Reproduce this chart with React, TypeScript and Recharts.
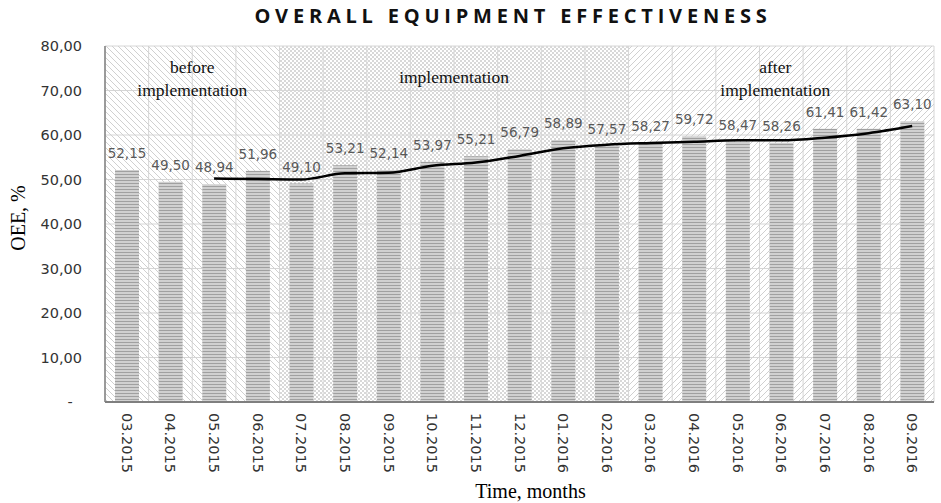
import {
  ComposedChart,
  Bar,
  Line,
  XAxis,
  YAxis,
  CartesianGrid,
  ReferenceArea,
  LabelList,
  Label,
} from "recharts"

const months = [
  "03.2015", "04.2015", "05.2015", "06.2015", "07.2015", "08.2015", "09.2015",
  "10.2015", "11.2015", "12.2015", "01.2016", "02.2016", "03.2016", "04.2016",
  "05.2016", "06.2016", "07.2016", "08.2016", "09.2016",
]
const oee = [
  52.15, 49.5, 48.94, 51.96, 49.1, 53.21, 52.14, 53.97, 55.21, 56.79,
  58.89, 57.57, 58.27, 59.72, 58.47, 58.26, 61.41, 61.42, 63.1,
]
// moving average line
const trend = [
  null, null, 50.2, 50.1, 50.0, 51.4, 51.5, 53.1, 53.8, 55.3,
  57.0, 57.8, 58.2, 58.5, 58.8, 58.8, 59.4, 60.4, 62.0,
]
const yTicks = [0, 10, 20, 30, 40, 50, 60, 70, 80]

const phaseFrom = ["03.2015", "07.2015", "03.2016"]
const phaseTo = ["06.2015", "02.2016", "09.2016"]
const phaseNotes = [["before", "implementation"], ["implementation"], ["after", "implementation"]]
const phaseFills = ["url(#hatchBack)", "url(#dots)", "url(#hatchFwd)"]

const data = months.map((month, i) => ({ month, oee: oee[i], trend: trend[i] }))

const fmt = (v: number) => (v === 0 ? "-\u00a0\u00a0" : v.toFixed(2).replace(".", ","))

const SANS = "DejaVu Sans"
const SERIF = "Liberation Serif"

function MonthTick({ x, y, payload }: any) {
  return (
    <text
      x={x}
      y={y}
      transform={`rotate(90, ${x}, ${y})`}
      textAnchor="start"
      dominantBaseline="central"
      fontFamily={SANS}
      fontSize={14.5}
      fill="#333"
    >
      {payload.value}
    </text>
  )
}

function noteRenderer(lines: string[]) {
  return ({ viewBox }: any) => {
    const cx = viewBox.x + viewBox.width / 2 - (lines[0] === "after" ? 6 : 0)
    const top = lines.length > 1 ? viewBox.y + 21 : viewBox.y + 31
    return (
      <text textAnchor="middle" fontFamily={SERIF} fontSize={17.5} fill="#111">
        {lines.map((l, i) => (
          <tspan key={i} x={cx} y={top + i * 23} dominantBaseline="central">
            {l}
          </tspan>
        ))}
      </text>
    )
  }
}

function YTitle({ viewBox }: any) {
  const x = viewBox.x + 18
  const y = viewBox.y + viewBox.height / 2 - 6
  return (
    <text
      x={x}
      y={y}
      transform={`rotate(-90, ${x}, ${y})`}
      textAnchor="middle"
      dominantBaseline="central"
      fontFamily={SERIF}
      fontSize={20}
      fill="#000"
    >
      OEE, %
    </text>
  )
}

export default function App() {
  return (
    <div style={{ position: "absolute", left: 0, top: 0, width: 941, height: 503, background: "#fff" }}>
      <div
        style={{
          position: "absolute",
          left: 0,
          top: 2,
          width: 1026,
          textAlign: "center",
          fontFamily: "Open Sans",
          fontWeight: "bold",
          fontSize: 20,
          letterSpacing: 4.8,
          color: "#111",
        }}
      >
        OVERALL EQUIPMENT EFFECTIVENESS
      </div>
      <ComposedChart
        width={941}
        height={503}
        data={data}
        margin={{ top: 46, right: 7, bottom: 21, left: 0 }}
        barSize={24}
      >
        <defs>
          <pattern id="hatchBack" width="6" height="6" patternUnits="userSpaceOnUse">
            <path d="M-1,5 l2,2 M0,0 l6,6 M5,-1 l2,2" stroke="#d0d0d0" strokeWidth="1" />
          </pattern>
          <pattern id="hatchFwd" width="6" height="6" patternUnits="userSpaceOnUse">
            <path d="M0,6 l6,-6 M-1,1 l2,-2 M5,7 l2,-2" stroke="#d0d0d0" strokeWidth="1" />
          </pattern>
          <pattern id="dots" width="4" height="4" patternUnits="userSpaceOnUse">
            <rect x="0" y="0" width="2" height="2" fill="#d8d8d8" />
            <rect x="2" y="2" width="2" height="2" fill="#d8d8d8" />
          </pattern>
          <pattern id="stripes" width="4" height="3" patternUnits="userSpaceOnUse">
            <rect x="0" y="0" width="4" height="3" fill="#d0d0d0" />
            <rect x="0" y="0" width="4" height="1" fill="#a0a0a0" />
          </pattern>
        </defs>
        {phaseFrom.map((from, i) => (
          <ReferenceArea
            key={from}
            x1={from}
            x2={phaseTo[i]}
            y1={0}
            y2={80}
            ifOverflow="visible"
            fill={phaseFills[i]}
            fillOpacity={1}
            stroke="none"
            label={noteRenderer(phaseNotes[i])}
          />
        ))}
        <CartesianGrid
          stroke="#d6d6d6"
          verticalCoordinatesGenerator={({ offset }: any) =>
            months.map((_, i) => offset.left + (i * offset.width) / months.length).concat(offset.left + offset.width)
          }
        />
        <XAxis
          dataKey="month"
          interval={0}
          height={80}
          tickLine={false}
          tickMargin={5}
          tick={<MonthTick />}
          axisLine={{ stroke: "#7f7f7f", strokeWidth: 2 }}
        >
          <Label
            value="Time, months"
            position="bottom"
            offset={0}
            dx={11}
            dy={2}
            fontFamily={SERIF}
            fontSize={20}
            fill="#000"
          />
        </XAxis>
        <YAxis
          domain={[0, 80]}
          ticks={yTicks}
          width={105}
          tickLine={false}
          tickMargin={17}
          tickFormatter={fmt}
          tick={{ fontFamily: SANS, fontSize: 14.5, fill: "#333" }}
          axisLine={{ stroke: "#808080", strokeWidth: 1.5 }}
        >
          <Label content={<YTitle />} />
        </YAxis>
        <Bar dataKey="oee" fill="url(#stripes)" isAnimationActive={false}>
          <LabelList
            dataKey="oee"
            position="top"
            offset={12}
            formatter={(v: any) => fmt(Number(v))}
            fontFamily={SANS}
            fontSize={13.5}
            fill="#595959"
          />
        </Bar>
        <Line
          dataKey="trend"
          type="monotone"
          stroke="#000"
          strokeWidth={2.5}
          dot={false}
          activeDot={false}
          isAnimationActive={false}
        />
      </ComposedChart>
    </div>
  )
}
